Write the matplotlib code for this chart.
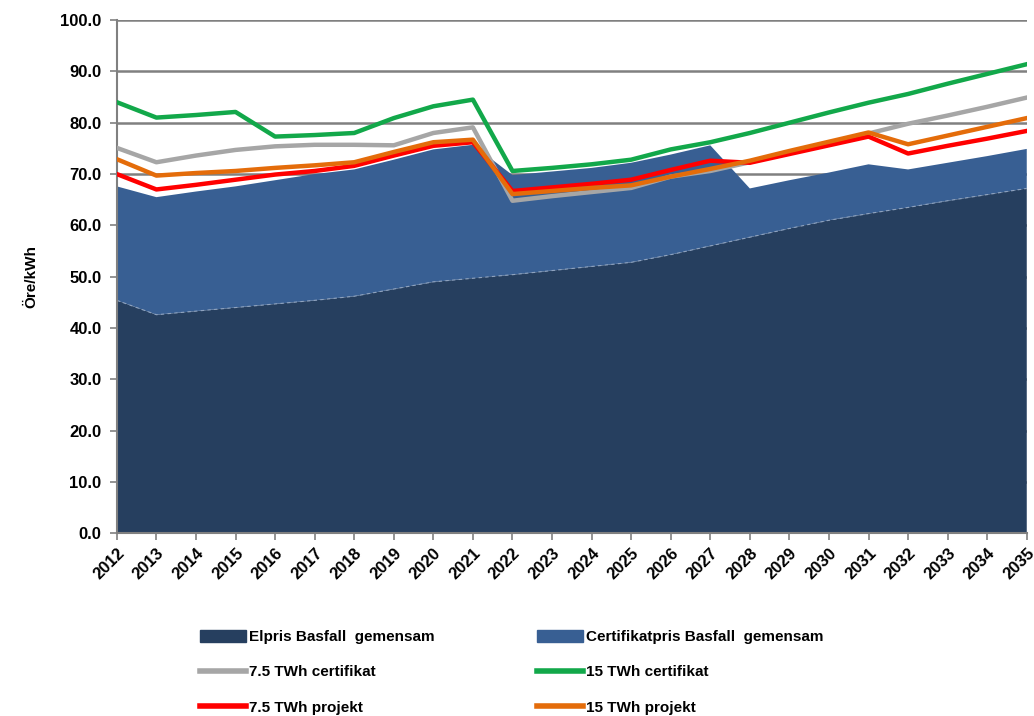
import matplotlib
matplotlib.use("Agg")
import matplotlib.pyplot as plt
import numpy as np
from matplotlib.patches import Patch
from matplotlib.lines import Line2D

years = list(range(2012, 2036))
elpris = [45.4, 42.6, 43.3, 44.0, 44.7, 45.4, 46.2, 47.6, 49.0, 49.7, 50.4, 51.2,
          52.0, 52.8, 54.3, 56.0, 57.7, 59.4, 61.0, 62.3, 63.5, 64.8, 66.0, 67.2]
total_basfall = [67.6, 65.5, 66.6, 67.6, 68.8, 70.0, 70.9, 72.8, 74.8, 75.7, 69.8, 70.5,
                 71.2, 72.2, 73.8, 75.6, 67.2, 68.8, 70.3, 71.9, 70.9, 72.2, 73.5, 74.9]
certifikat = [round(t - e, 1) for t, e in zip(total_basfall, elpris)]
cert_7_5 = [75.1, 72.3, 73.6, 74.7, 75.4, 75.7, 75.7, 75.6, 78.0, 79.1, 64.8, 65.7,
            66.5, 67.3, 69.5, 70.6, 72.3, 74.2, 76.1, 77.9, 79.8, 81.4, 83.1, 84.9]
cert_15 = [84.0, 81.0, 81.5, 82.1, 77.3, 77.6, 78.0, 80.9, 83.2, 84.5, 70.6, 71.2,
           71.9, 72.8, 74.8, 76.2, 78.0, 80.0, 82.0, 83.9, 85.6, 87.6, 89.5, 91.4]
proj_7_5 = [70.0, 67.0, 67.9, 68.9, 69.9, 70.6, 71.6, 73.6, 75.5, 76.2, 66.7, 67.4,
            68.1, 68.9, 70.8, 72.6, 72.2, 73.9, 75.6, 77.3, 74.0, 75.5, 76.9, 78.4]
proj_15 = [72.9, 69.7, 70.2, 70.6, 71.2, 71.7, 72.3, 74.3, 76.2, 76.7, 66.1, 66.7,
           67.3, 67.8, 69.5, 71.0, 72.6, 74.5, 76.3, 78.1, 75.8, 77.5, 79.2, 80.9]

labels = ["Elpris Basfall  gemensam", "Certifikatpris Basfall  gemensam",
          "7.5 TWh certifikat", "15 TWh certifikat", "7.5 TWh projekt", "15 TWh projekt"]

c_dark = "#263f5f"
c_blue = "#385f93"
c_grey = "#a6a6a6"
c_green = "#12a84a"
c_red = "#ff0000"
c_orange = "#e46c0a"

plt.rcParams['font.family'] = ['Liberation Sans', 'DejaVu Sans']

fig = plt.figure(figsize=(10.34, 7.16), dpi=100)
ax = fig.add_axes([0.113, 0.255, 0.88, 0.717])

x = np.array(years)
ax.stackplot(x, elpris, certifikat, colors=[c_dark, c_blue], zorder=2)
ax.plot(x, elpris, color="#8fa3bf", lw=0.8, ls=(0, (3, 3)), zorder=2.5)
ax.plot(x, cert_7_5, color=c_grey, lw=3.2, zorder=3)
ax.plot(x, cert_15, color=c_green, lw=3.2, zorder=3)
ax.plot(x, proj_7_5, color=c_red, lw=3.2, zorder=4)
ax.plot(x, proj_15, color=c_orange, lw=3.2, zorder=5)

ax.set_xlim(2012, 2035)
ax.set_ylim(0, 100)
ax.set_yticks(np.arange(0, 101, 10))
ax.set_yticklabels([f"{v:.1f}" for v in np.arange(0, 101, 10)], fontsize=12, fontweight='bold')
ax.set_xticks(years)
ax.set_xticklabels([str(y) for y in years], rotation=45, ha='right', rotation_mode='anchor',
                   fontsize=12, fontweight='bold')
ax.grid(axis='y', color='#808080', lw=1.8, zorder=1)
ax.set_axisbelow(True)
for s in ['top', 'right']:
    ax.spines[s].set_visible(False)
ax.spines['left'].set_color('#808080')
ax.spines['left'].set_linewidth(1.5)
ax.spines['bottom'].set_color('#808080')
ax.spines['bottom'].set_linewidth(1.5)
ax.tick_params(axis='both', colors='#808080', labelcolor='black', length=5, width=1.2)
ax.tick_params(axis='y', pad=6)
ax.tick_params(axis='x', pad=4)
ax.set_ylabel("Öre/kWh", fontsize=11, fontweight='bold', labelpad=16)

handles = [Patch(color=c_dark), Line2D([], [], color=c_grey, lw=4),
           Line2D([], [], color=c_red, lw=4), Patch(color=c_blue),
           Line2D([], [], color=c_green, lw=4), Line2D([], [], color=c_orange, lw=4)]
leg_labels = [labels[0], labels[2], labels[4], labels[1], labels[3], labels[5]]
fig.legend(handles, leg_labels, ncol=2, loc='upper left', bbox_to_anchor=(0.18, 0.14),
           frameon=False, handlelength=3.0, handleheight=0.9, handletextpad=0.2,
           labelspacing=1.35, columnspacing=6.7, prop={'weight': 'bold', 'size': 11})

fig.savefig("out.png", dpi=100)
